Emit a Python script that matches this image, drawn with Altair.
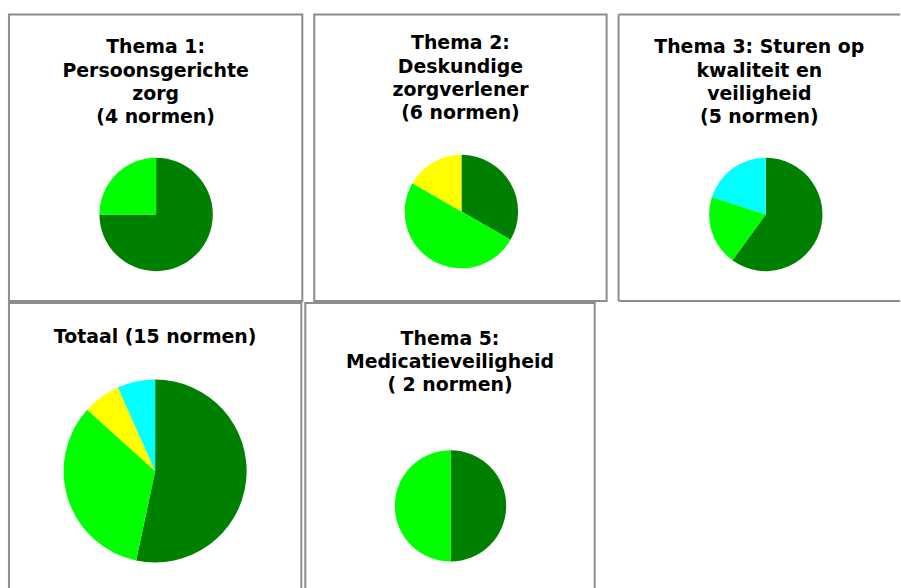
import altair as alt
import pandas as pd

# Categories (slice order, clockwise from 12 o'clock) and their colours
categories = ["Voldoet", "Voldoet grotendeels", "Voldoet gedeeltelijk", "Voldoet niet"]
colors = ["#008000", "#00ff00", "#ffff00", "#00ffff"]

# Panel titles
titles = [
    "Thema 1:\nPersoonsgerichte\nzorg\n(4 normen)",
    "Thema 2:\nDeskundige\nzorgverlener\n(6 normen)",
    "Thema 3: Sturen op\nkwaliteit en\nveiligheid\n(5 normen)",
    "Totaal (15 normen)",
    "Thema 5:\nMedicatieveiligheid\n( 2 normen)",
]

# Number of norms per category, per panel
thema1 = [3, 1, 0, 0]
thema2 = [2, 3, 1, 0]
thema3 = [3, 1, 0, 1]
totaal = [8, 5, 1, 1]
thema5 = [1, 1, 0, 0]

FONT = "DejaVu Sans"
BORDER = "#8c8c8c"
color_scale = alt.Scale(domain=categories, range=colors)


def panel(title, counts, w, h, cx, cy, r, ty=39, open_right=False):
    df = pd.DataFrame({
        "categorie": categories,
        "aantal": counts,
        "volgorde": list(range(len(categories))),
    })
    df = df[df["aantal"] > 0]
    pie = alt.Chart(df).mark_arc(radius=r).encode(
        theta=alt.Theta("aantal:Q", stack=True),
        color=alt.Color("categorie:N", scale=color_scale, legend=None),
        order=alt.Order("volgorde:Q"),
        x=alt.value(cx),
        y=alt.value(cy),
    )
    text = alt.Chart(pd.DataFrame({"titel": [title]})).mark_text(
        font=FONT, fontWeight="bold", fontSize=19, lineHeight=23.5,
        lineBreak="\n", align="center", baseline="alphabetic", color="black",
    ).encode(
        text="titel:N",
        x=alt.value(w / 2),
        y=alt.value(ty),
    )
    layers = [pie, text]
    props = dict(width=w, height=h)
    if open_right:
        # panel cut off at the right edge of the picture: border on three sides only
        edge = alt.Chart(pd.DataFrame({"k": [0]})).mark_rule(
            color=BORDER, strokeWidth=2)
        layers += [
            edge.encode(x=alt.value(0), y=alt.value(0), y2=alt.value(h)),
            edge.encode(x=alt.value(0), x2=alt.value(w), y=alt.value(0)),
            edge.encode(x=alt.value(0), x2=alt.value(w), y=alt.value(h)),
        ]
        props["view"] = alt.ViewBackground(strokeWidth=0)
    return alt.layer(*layers).properties(**props)


p1 = panel(titles[0], thema1, 295, 288, 148, 201, 57)
p2 = panel(titles[1], thema2, 294, 288, 148, 198, 57, ty=35)
p3 = panel(titles[2], thema3, 283, 288, 148, 201, 57, open_right=True)
p4 = panel(titles[3], totaal, 294, 292, 147, 169, 92, ty=40)
p5 = panel(titles[4], thema5, 291, 292, 146, 204, 56, ty=42)

chart = alt.vconcat(
    alt.hconcat(p1, p2, p3, spacing=10),
    alt.hconcat(p4, p5, spacing=2),
    spacing=0,
).properties(
    padding={"left": 8, "top": 12, "right": 0, "bottom": 0},
    background="white",
).configure_view(
    stroke=BORDER, strokeWidth=2,
)

chart.save("out.html", embed_options={"renderer": "svg", "actions": False})
